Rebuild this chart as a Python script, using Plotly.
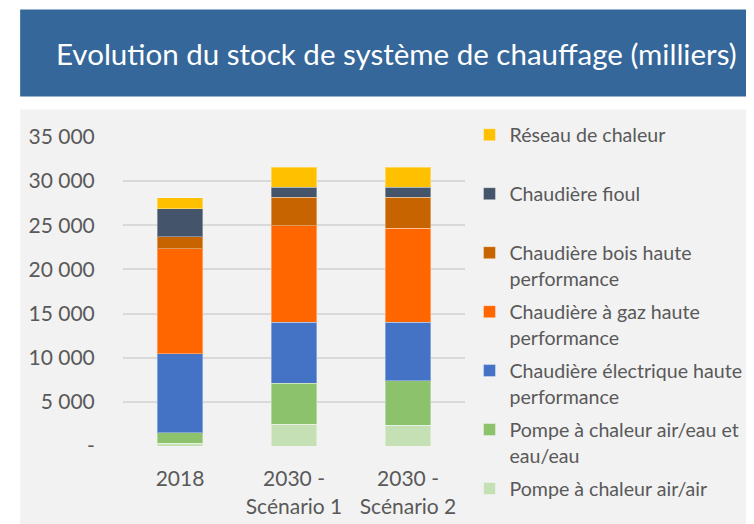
import plotly.graph_objects as go

OFF = 8  # page body margin of the browser
W, H = 754 - OFF, 524 - OFF
# positions below are given in reference-screen pixels
PL, PR, PT, PB = 123, 465.5, 136.5, 445.7
ML, MR, MT, MB = PL - OFF, W - (PR - OFF), PT - OFF, H - (PB - OFF)
PW, PH = W - ML - MR, H - MT - MB

def px_x(p):
    return (p - OFF - ML) / PW

def px_y(p):
    return (H - MB - (p - OFF)) / PH

categories = ["2018", "2030 -<br>Scénario 1", "2030 -<br>Scénario 2"]

series_names = [
    "Pompe à chaleur air/air",
    "Pompe à chaleur air/eau et<br>eau/eau",
    "Chaudière électrique haute<br>performance",
    "Chaudière à gaz haute<br>performance",
    "Chaudière bois haute<br>performance",
    "Chaudière fioul<br> ",
    "Réseau de chaleur<br> ",
]

pac_air_air = [340, 2470, 2350]
pac_air_eau = [1180, 4650, 5040]
chaud_elec = [8930, 6900, 6630]
chaud_gaz = [11900, 10910, 10640]
chaud_bois = [1350, 3270, 3540]
chaud_fioul = [3200, 1100, 1100]
reseau_chaleur = [1200, 2300, 2300]

series_values = [pac_air_air, pac_air_eau, chaud_elec, chaud_gaz,
                 chaud_bois, chaud_fioul, reseau_chaleur]
colors = ["#C5E0B4", "#8DC26C", "#4472C4", "#FF6600", "#C86400", "#44546A", "#FFC000"]

tick_vals = [0, 5000, 10000, 15000, 20000, 25000, 30000, 35000]
tick_text = ["-", "5 000", "10 000", "15 000", "20 000", "25 000", "30 000", "35 000"]

FONT = "Lato"
GREY = "#595959"

fig = go.Figure()
n = len(series_names)
for i, (name, vals, col) in enumerate(zip(series_names, series_values, colors)):
    fig.add_trace(go.Bar(
        x=categories, y=vals, name=name, legendgroup=f"g{i}",
        legendrank=(n - i) * 10,
        marker=dict(color=col, line=dict(color="rgba(255,255,255,0.35)", width=1)),
        hoverinfo="x+y+name",
    ))

fig.update_layout(
    width=W, height=H,
    margin=dict(l=ML, r=MR, t=MT, b=MB, autoexpand=False),
    barmode="stack", bargap=0.6,
    paper_bgcolor="white", plot_bgcolor="#F2F2F2",
    font=dict(family=FONT, size=21, color=GREY),
    showlegend=True,
    legend=dict(
        traceorder="grouped", tracegroupgap=5,
        x=px_x(470), xanchor="left", y=px_y(115), yanchor="top",
        bgcolor="rgba(0,0,0,0)", font=dict(family=FONT, size=19.6, color=GREY),
        valign="top", itemwidth=30, maxheight=1,
    ),
    xaxis=dict(
        showgrid=False, zeroline=False, showline=False,
        ticks="outside", ticklen=14, tickcolor="rgba(0,0,0,0)",
        tickfont=dict(family=FONT, size=21, color=GREY),
    ),
    yaxis=dict(
        range=[0, 35000], tickvals=tick_vals, ticktext=tick_text,
        showgrid=True, gridcolor="#D9D9D9", gridwidth=1.5,
        zeroline=False, showline=False,
        ticks="outside", ticklen=23, tickcolor="rgba(0,0,0,0)",
        tickfont=dict(family=FONT, size=21, color=GREY),
    ),
    shapes=[
        dict(type="rect", xref="paper", yref="paper", layer="below",
             x0=px_x(20), x1=px_x(760), y0=px_y(96), y1=px_y(9),
             fillcolor="#35679A", line=dict(width=0)),
        dict(type="rect", xref="paper", yref="paper", layer="below",
             x0=px_x(20), x1=px_x(760), y0=px_y(530), y1=px_y(109),
             fillcolor="#F2F2F2", line=dict(width=0)),
    ],
    annotations=[
        dict(text="Evolution du stock de système de chauffage (milliers)",
             xref="paper", yref="paper", x=px_x(397), y=px_y(53),
             xanchor="center", yanchor="middle", showarrow=False,
             font=dict(family=FONT, size=29.5, color="white")),
    ],
)

fig.write_html("out.html")
